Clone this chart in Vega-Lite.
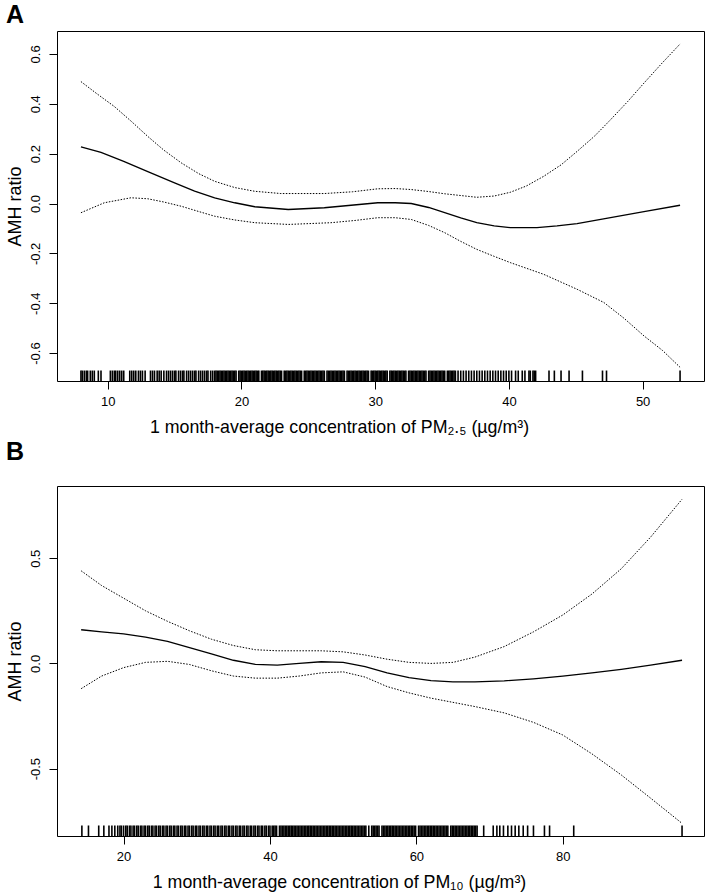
{
 "$schema": "https://vega.github.io/schema/vega-lite/v6.json",
 "background": "white",
 "padding": {"left": 5, "top": 2, "right": 3, "bottom": 0},
 "spacing": 2,
 "config": {
  "font": "Liberation Sans",
  "view": {"stroke": "black", "strokeWidth": 1},
  "axis": {"grid": false, "domain": false, "tickColor": "black", "tickSize": 8, "tickWidth": 1, "labelColor": "black", "titleColor": "black", "labelFont": "Liberation Sans", "titleFont": "Liberation Sans", "labelFontSize": 13, "titleFontSize": 18, "titleFontWeight": "normal"},
  "title": {"font": "Liberation Sans", "fontSize": 25, "fontWeight": "bold", "anchor": "start", "frame": "bounds", "baseline": "alphabetic", "color": "black"}
 },
 "datasets": {
  "curveA": [
   {"x":8.0,"y":0.227,"s":"fit"},{"x":9.5,"y":0.205,"s":"fit"},{"x":11.2,"y":0.169,"s":"fit"},{"x":13,"y":0.128,"s":"fit"},{"x":15,"y":0.083,"s":"fit"},{"x":16.5,"y":0.05,"s":"fit"},{"x":18,"y":0.023,"s":"fit"},{"x":19.5,"y":0.003,"s":"fit"},{"x":21,"y":-0.013,"s":"fit"},{"x":23.5,"y":-0.024,"s":"fit"},{"x":26.2,"y":-0.017,"s":"fit"},{"x":28,"y":-0.008,"s":"fit"},{"x":30.2,"y":0.003,"s":"fit"},{"x":31.5,"y":0.003,"s":"fit"},{"x":32.7,"y":0.0,"s":"fit"},{"x":34,"y":-0.016,"s":"fit"},{"x":35.2,"y":-0.037,"s":"fit"},{"x":36.4,"y":-0.058,"s":"fit"},{"x":37.6,"y":-0.077,"s":"fit"},{"x":38.9,"y":-0.09,"s":"fit"},{"x":40.1,"y":-0.097,"s":"fit"},{"x":42.1,"y":-0.097,"s":"fit"},{"x":43.6,"y":-0.09,"s":"fit"},{"x":45.1,"y":-0.081,"s":"fit"},{"x":47.6,"y":-0.057,"s":"fit"},{"x":50.1,"y":-0.033,"s":"fit"},{"x":52.8,"y":-0.007,"s":"fit"},
   {"x":8.0,"y":0.489,"s":"upper"},{"x":9.2,"y":0.44,"s":"upper"},{"x":10.5,"y":0.389,"s":"upper"},{"x":11.8,"y":0.328,"s":"upper"},{"x":13,"y":0.269,"s":"upper"},{"x":14.2,"y":0.214,"s":"upper"},{"x":15.5,"y":0.163,"s":"upper"},{"x":16.8,"y":0.12,"s":"upper"},{"x":18,"y":0.089,"s":"upper"},{"x":19.5,"y":0.064,"s":"upper"},{"x":21,"y":0.049,"s":"upper"},{"x":22.95,"y":0.04,"s":"upper"},{"x":26.2,"y":0.04,"s":"upper"},{"x":28.3,"y":0.047,"s":"upper"},{"x":30.2,"y":0.059,"s":"upper"},{"x":31.5,"y":0.06,"s":"upper"},{"x":32.7,"y":0.056,"s":"upper"},{"x":34,"y":0.048,"s":"upper"},{"x":35.2,"y":0.039,"s":"upper"},{"x":37.6,"y":0.025,"s":"upper"},{"x":38.9,"y":0.03,"s":"upper"},{"x":40.1,"y":0.045,"s":"upper"},{"x":41.3,"y":0.07,"s":"upper"},{"x":42.6,"y":0.109,"s":"upper"},{"x":43.9,"y":0.155,"s":"upper"},{"x":45.1,"y":0.209,"s":"upper"},{"x":46.4,"y":0.27,"s":"upper"},{"x":47.6,"y":0.336,"s":"upper"},{"x":48.9,"y":0.41,"s":"upper"},{"x":50.1,"y":0.483,"s":"upper"},{"x":51.4,"y":0.56,"s":"upper"},{"x":52.8,"y":0.64,"s":"upper"},
   {"x":8.0,"y":-0.037,"s":"lower"},{"x":9.75,"y":0.003,"s":"lower"},{"x":11.74,"y":0.023,"s":"lower"},{"x":13,"y":0.019,"s":"lower"},{"x":14.2,"y":0.006,"s":"lower"},{"x":15.5,"y":-0.011,"s":"lower"},{"x":16.8,"y":-0.032,"s":"lower"},{"x":18,"y":-0.051,"s":"lower"},{"x":19.5,"y":-0.066,"s":"lower"},{"x":21,"y":-0.077,"s":"lower"},{"x":23.5,"y":-0.084,"s":"lower"},{"x":26.7,"y":-0.077,"s":"lower"},{"x":28.5,"y":-0.068,"s":"lower"},{"x":30.2,"y":-0.057,"s":"lower"},{"x":31.5,"y":-0.057,"s":"lower"},{"x":32.7,"y":-0.064,"s":"lower"},{"x":34,"y":-0.088,"s":"lower"},{"x":35.2,"y":-0.117,"s":"lower"},{"x":36.4,"y":-0.152,"s":"lower"},{"x":37.6,"y":-0.184,"s":"lower"},{"x":38.9,"y":-0.212,"s":"lower"},{"x":40.1,"y":-0.237,"s":"lower"},{"x":42.6,"y":-0.284,"s":"lower"},{"x":45.1,"y":-0.344,"s":"lower"},{"x":47.1,"y":-0.397,"s":"lower"},{"x":48.6,"y":-0.46,"s":"lower"},{"x":50.1,"y":-0.531,"s":"lower"},{"x":51.5,"y":-0.59,"s":"lower"},{"x":52.8,"y":-0.657,"s":"lower"}
  ],
  "curveB": [
   {"x":14.2,"y":0.16,"s":"fit"},{"x":17,"y":0.15,"s":"fit"},{"x":20,"y":0.14,"s":"fit"},{"x":23,"y":0.125,"s":"fit"},{"x":26,"y":0.105,"s":"fit"},{"x":29,"y":0.075,"s":"fit"},{"x":32,"y":0.045,"s":"fit"},{"x":35,"y":0.015,"s":"fit"},{"x":38,"y":-0.005,"s":"fit"},{"x":41,"y":-0.008,"s":"fit"},{"x":44,"y":0.0,"s":"fit"},{"x":47,"y":0.008,"s":"fit"},{"x":50,"y":0.005,"s":"fit"},{"x":53,"y":-0.015,"s":"fit"},{"x":56,"y":-0.045,"s":"fit"},{"x":59,"y":-0.068,"s":"fit"},{"x":62,"y":-0.082,"s":"fit"},{"x":65,"y":-0.088,"s":"fit"},{"x":68,"y":-0.088,"s":"fit"},{"x":72,"y":-0.083,"s":"fit"},{"x":76,"y":-0.073,"s":"fit"},{"x":80,"y":-0.06,"s":"fit"},{"x":84,"y":-0.045,"s":"fit"},{"x":88,"y":-0.028,"s":"fit"},{"x":92,"y":-0.008,"s":"fit"},{"x":96.3,"y":0.015,"s":"fit"},
   {"x":14.2,"y":0.44,"s":"upper"},{"x":17,"y":0.37,"s":"upper"},{"x":20,"y":0.31,"s":"upper"},{"x":23,"y":0.25,"s":"upper"},{"x":26,"y":0.2,"s":"upper"},{"x":29,"y":0.155,"s":"upper"},{"x":32,"y":0.115,"s":"upper"},{"x":35,"y":0.085,"s":"upper"},{"x":38,"y":0.065,"s":"upper"},{"x":41,"y":0.06,"s":"upper"},{"x":44,"y":0.06,"s":"upper"},{"x":47,"y":0.06,"s":"upper"},{"x":50,"y":0.055,"s":"upper"},{"x":53,"y":0.04,"s":"upper"},{"x":56,"y":0.02,"s":"upper"},{"x":59,"y":0.005,"s":"upper"},{"x":62,"y":0.0,"s":"upper"},{"x":65,"y":0.005,"s":"upper"},{"x":68,"y":0.03,"s":"upper"},{"x":72,"y":0.08,"s":"upper"},{"x":76,"y":0.15,"s":"upper"},{"x":80,"y":0.23,"s":"upper"},{"x":84,"y":0.33,"s":"upper"},{"x":88,"y":0.45,"s":"upper"},{"x":92,"y":0.6,"s":"upper"},{"x":96.3,"y":0.78,"s":"upper"},
   {"x":14.2,"y":-0.12,"s":"lower"},{"x":17,"y":-0.06,"s":"lower"},{"x":20,"y":-0.02,"s":"lower"},{"x":23,"y":0.005,"s":"lower"},{"x":26,"y":0.01,"s":"lower"},{"x":29,"y":-0.005,"s":"lower"},{"x":32,"y":-0.035,"s":"lower"},{"x":35,"y":-0.06,"s":"lower"},{"x":38,"y":-0.07,"s":"lower"},{"x":41,"y":-0.07,"s":"lower"},{"x":44,"y":-0.06,"s":"lower"},{"x":47,"y":-0.045,"s":"lower"},{"x":50,"y":-0.04,"s":"lower"},{"x":53,"y":-0.065,"s":"lower"},{"x":56,"y":-0.11,"s":"lower"},{"x":59,"y":-0.14,"s":"lower"},{"x":62,"y":-0.165,"s":"lower"},{"x":65,"y":-0.185,"s":"lower"},{"x":68,"y":-0.205,"s":"lower"},{"x":72,"y":-0.235,"s":"lower"},{"x":76,"y":-0.28,"s":"lower"},{"x":80,"y":-0.34,"s":"lower"},{"x":84,"y":-0.43,"s":"lower"},{"x":88,"y":-0.53,"s":"lower"},{"x":92,"y":-0.64,"s":"lower"},{"x":96.3,"y":-0.76,"s":"lower"}
  ],
  "rugA": [
   {"x":8.0},{"x":8.1},{"x":8.25},{"x":8.4},{"x":8.5},{"x":8.7},{"x":8.85},{"x":9.0},{"x":9.3},{"x":9.5},{"x":10.2},{"x":10.35},{"x":10.5},{"x":10.6},{"x":10.75},{"x":10.9},{"x":11.05},{"x":11.2},{"x":11.65},{"x":11.8},{"x":11.95},{"x":12.1},{"x":12.3},{"x":12.45},{"x":12.6},{"x":12.8},{"x":13.2},{"x":13.35},{"x":13.5},{"x":13.7},{"x":13.85},{"x":14.0},{"x":14.2},{"x":14.4},{"x":14.55},{"x":14.7},{"x":14.85},{"x":15.0},{"x":15.1},{"x":15.3},{"x":15.45},{"x":15.6},{"x":15.7},{"x":15.9},{"x":16.05},{"x":16.2},{"x":16.35},{"x":16.5},{"x":16.6},{"x":16.8},{"x":16.95},{"x":17.1},{"x":17.25},{"x":17.4},{"x":17.5},{"x":17.7},{"x":17.85},
   {"x":18.0},{"x":18.1},{"x":18.2},{"x":18.3},{"x":18.4},{"x":18.5},{"x":18.6},{"x":18.7},{"x":18.8},{"x":18.9},
   {"x":19.0},{"x":19.1},{"x":19.2},{"x":19.3},{"x":19.4},{"x":19.5},{"x":19.6},{"x":19.8},{"x":19.9},
   {"x":20.0},{"x":20.1},{"x":20.2},{"x":20.3},{"x":20.4},{"x":20.5},{"x":20.6},{"x":20.7},{"x":20.8},{"x":20.9},
   {"x":21.0},{"x":21.1},{"x":21.2},{"x":21.3},{"x":21.5},{"x":21.6},{"x":21.7},{"x":21.8},{"x":21.9},
   {"x":22.0},{"x":22.1},{"x":22.2},{"x":22.3},{"x":22.4},{"x":22.5},{"x":22.6},{"x":22.7},{"x":22.8},{"x":22.9},
   {"x":23.0},{"x":23.2},{"x":23.3},{"x":23.4},{"x":23.5},{"x":23.6},{"x":23.7},{"x":23.8},{"x":23.9},
   {"x":24.0},{"x":24.1},{"x":24.2},{"x":24.3},{"x":24.4},{"x":24.5},{"x":24.7},{"x":24.8},{"x":24.9},
   {"x":25.0},{"x":25.1},{"x":25.2},{"x":25.3},{"x":25.4},{"x":25.5},{"x":25.6},{"x":25.7},{"x":25.8},{"x":25.9},
   {"x":26.0},{"x":26.1},{"x":26.2},{"x":26.4},{"x":26.5},{"x":26.6},{"x":26.7},{"x":26.8},{"x":26.9},
   {"x":27.0},{"x":27.1},{"x":27.2},{"x":27.3},{"x":27.4},{"x":27.5},{"x":27.6},{"x":27.7},{"x":27.9},
   {"x":28.0},{"x":28.1},{"x":28.2},{"x":28.3},{"x":28.4},{"x":28.5},{"x":28.6},{"x":28.7},{"x":28.8},{"x":28.9},
   {"x":29.0},{"x":29.1},{"x":29.2},{"x":29.3},{"x":29.4},{"x":29.5},{"x":29.7},{"x":29.8},{"x":29.9},
   {"x":30.0},{"x":30.1},{"x":30.2},{"x":30.3},{"x":30.4},{"x":30.5},{"x":30.6},{"x":30.7},{"x":30.8},{"x":30.9},
   {"x":31.1},{"x":31.2},{"x":31.3},{"x":31.4},{"x":31.5},{"x":31.6},{"x":31.7},{"x":31.8},{"x":31.9},
   {"x":32.0},{"x":32.1},{"x":32.2},{"x":32.3},{"x":32.5},{"x":32.6},{"x":32.7},{"x":32.8},{"x":32.9},
   {"x":33.0},{"x":33.1},{"x":33.2},{"x":33.3},{"x":33.4},{"x":33.5},{"x":33.6},{"x":33.7},{"x":33.8},
   {"x":34.0},{"x":34.1},{"x":34.2},{"x":34.3},{"x":34.4},{"x":34.5},{"x":34.6},{"x":34.7},{"x":34.8},{"x":34.9},
   {"x":35.0},{"x":35.1},{"x":35.2},{"x":35.4},{"x":35.5},{"x":35.6},{"x":35.7},{"x":35.8},{"x":35.9},
   {"x":36.0},{"x":36.2},{"x":36.4},{"x":36.6},{"x":36.8},{"x":37.0},{"x":37.2},{"x":37.4},{"x":37.6},{"x":37.8},{"x":38.0},{"x":38.2},{"x":38.4},{"x":38.6},{"x":38.8},{"x":39.0},{"x":39.2},{"x":39.4},{"x":39.6},{"x":39.8},{"x":40.0},
   {"x":40.2},{"x":40.5},{"x":40.7},{"x":41.0},{"x":41.2},{"x":41.5},{"x":41.6},{"x":41.8},{"x":41.9},{"x":42.0},{"x":43.0},{"x":43.4},{"x":43.9},{"x":44.5},{"x":45.5},{"x":47.0},{"x":47.3},{"x":52.8}
  ],
  "rugB": [
   {"x":14.3},{"x":15.2},{"x":16.6},{"x":17.3},{"x":18.0},{"x":18.4},{"x":18.8},
   {"x":19.2},{"x":19.5},{"x":19.7},{"x":20.0},{"x":20.3},{"x":20.5},{"x":20.8},{"x":21.0},{"x":21.3},{"x":21.5},{"x":21.8},{"x":22.0},{"x":22.3},{"x":22.5},{"x":22.8},{"x":23.0},{"x":23.3},{"x":23.5},{"x":23.8},{"x":24.0},{"x":24.3},{"x":24.5},{"x":24.8},{"x":25.0},{"x":25.3},{"x":25.5},{"x":25.8},{"x":26.0},{"x":26.3},{"x":26.5},{"x":26.8},{"x":27.0},{"x":27.3},{"x":27.5},{"x":27.8},{"x":28.0},{"x":28.3},{"x":28.5},{"x":28.8},{"x":29.0},{"x":29.3},{"x":29.5},{"x":29.8},{"x":30.0},{"x":30.3},{"x":30.5},{"x":30.8},{"x":31.0},{"x":31.3},{"x":31.5},{"x":31.8},{"x":32.0},{"x":32.3},{"x":32.5},{"x":32.8},{"x":33.0},{"x":33.3},{"x":33.5},{"x":33.8},{"x":34.0},{"x":34.3},{"x":34.5},{"x":34.8},{"x":35.0},{"x":35.3},{"x":35.5},{"x":35.8},{"x":36.0},{"x":36.3},{"x":36.5},{"x":36.8},{"x":37.0},{"x":37.3},{"x":37.5},{"x":37.8},{"x":38.0},{"x":38.3},{"x":38.5},{"x":38.8},{"x":39.0},{"x":39.3},{"x":39.5},{"x":39.8},{"x":40.0},{"x":40.3},{"x":40.5},
   {"x":40.7},{"x":40.9},{"x":41.3},{"x":41.5},{"x":41.7},{"x":41.9},{"x":42.1},{"x":42.3},{"x":42.5},{"x":42.7},{"x":42.9},{"x":43.1},{"x":43.3},{"x":43.5},{"x":43.7},{"x":43.9},{"x":44.1},{"x":44.3},{"x":44.5},{"x":44.7},{"x":44.9},{"x":45.1},{"x":45.3},{"x":45.5},{"x":45.7},{"x":45.9},{"x":46.1},{"x":46.3},{"x":46.5},{"x":46.7},{"x":46.9},{"x":47.1},{"x":47.3},{"x":47.5},{"x":47.7},{"x":47.9},{"x":48.1},{"x":48.3},{"x":48.5},{"x":48.7},{"x":48.9},{"x":49.1},{"x":49.3},{"x":49.5},{"x":49.7},{"x":49.9},{"x":50.1},{"x":50.3},{"x":50.5},{"x":50.7},{"x":50.9},{"x":51.1},{"x":51.3},{"x":51.5},{"x":51.7},{"x":51.9},{"x":52.1},{"x":52.3},{"x":52.5},{"x":52.7},{"x":52.9},{"x":53.1},{"x":53.5},{"x":53.9},{"x":54.1},{"x":54.3},{"x":54.5},{"x":54.7},{"x":54.9},{"x":55.3},{"x":55.5},{"x":55.7},{"x":55.9},{"x":56.1},{"x":56.3},{"x":56.5},{"x":56.7},{"x":56.9},{"x":57.1},{"x":57.3},{"x":57.5},{"x":57.7},{"x":57.9},{"x":58.1},{"x":58.3},{"x":58.5},{"x":58.7},{"x":58.9},{"x":59.1},{"x":59.3},{"x":59.5},{"x":59.7},{"x":59.9},{"x":60.3},{"x":60.5},{"x":60.7},{"x":60.9},{"x":61.1},{"x":61.3},{"x":61.5},{"x":61.7},{"x":61.9},{"x":62.1},{"x":62.3},{"x":62.5},{"x":62.7},{"x":62.9},{"x":63.1},{"x":63.3},{"x":63.5},{"x":63.7},{"x":63.9},{"x":64.1},{"x":64.3},{"x":64.7},{"x":64.9},{"x":65.1},{"x":65.3},{"x":65.5},{"x":65.7},{"x":65.9},{"x":66.1},{"x":66.3},{"x":66.5},{"x":66.7},{"x":66.9},{"x":67.1},{"x":67.3},{"x":67.5},{"x":67.7},{"x":67.9},{"x":68.1},{"x":68.3},
   {"x":69.2},{"x":70.5},{"x":71.0},{"x":71.4},{"x":71.9},{"x":72.5},{"x":73.0},{"x":73.5},{"x":74.0},{"x":74.6},{"x":75.2},{"x":76.0},{"x":77.5},{"x":78.2},{"x":81.5},{"x":96.3}
  ]
 },
 "vconcat": [
  {
   "title": {"text": "A", "offset": 3},
   "width": 647,
   "height": 350,
   "layer": [
    {
     "data": {"name": "curveA"},
     "transform": [{"filter": "datum.s !== 'fit'"}],
     "mark": {"type": "line", "color": "black", "strokeWidth": 1, "strokeDash": [1.5, 1.5]},
     "encoding": {
      "x": {"field": "x", "type": "quantitative", "scale": {"domain": [6.21, 54.59], "nice": false, "zero": false},
            "axis": {"values": [10, 20, 30, 40, 50], "title": "1 month-average concentration of PM₂.₅ (µg/m³)", "titleFontSize": 17.8, "titleX": 282, "labelPadding": 6, "titlePadding": 10}},
      "y": {"field": "y", "type": "quantitative", "scale": {"domain": [-0.712, 0.692], "nice": false, "zero": false},
            "axis": {"values": [-0.6, -0.4, -0.2, 0, 0.2, 0.4, 0.6], "labelExpr": "replace(format(datum.value, '.1f'), '\u2212', '-')", "labelAngle": 270, "labelAlign": "center", "labelBaseline": "bottom", "labelPadding": 7, "title": "AMH ratio", "titlePadding": 5}},
      "detail": {"field": "s"}
     }
    },
    {
     "data": {"name": "curveA"},
     "transform": [{"filter": "datum.s === 'fit'"}],
     "mark": {"type": "line", "color": "black", "strokeWidth": 1.3},
     "encoding": {
      "x": {"field": "x", "type": "quantitative"},
      "y": {"field": "y", "type": "quantitative"}
     }
    },
    {
     "data": {"name": "rugA"},
     "mark": {"type": "rule", "color": "black", "strokeWidth": 1.6},
     "encoding": {
      "x": {"field": "x", "type": "quantitative"},
      "y": {"datum": -0.712},
      "y2": {"datum": -0.67}
     }
    }
   ]
  },
  {
   "title": {"text": "B", "offset": 21},
   "width": 647,
   "height": 350,
   "layer": [
    {
     "data": {"name": "curveB"},
     "transform": [{"filter": "datum.s !== 'fit'"}],
     "mark": {"type": "line", "color": "black", "strokeWidth": 1, "strokeDash": [1.5, 1.5]},
     "encoding": {
      "x": {"field": "x", "type": "quantitative", "scale": {"domain": [10.9, 99.3], "nice": false, "zero": false},
            "axis": {"values": [20, 40, 60, 80], "title": "1 month-average concentration of PM₁₀ (µg/m³)", "titleFontSize": 17.8, "titleX": 282, "labelPadding": 6, "titlePadding": 10}},
      "y": {"field": "y", "type": "quantitative", "scale": {"domain": [-0.82, 0.843], "nice": false, "zero": false},
            "axis": {"values": [-0.5, 0, 0.5], "labelExpr": "replace(format(datum.value, '.1f'), '\u2212', '-')", "labelAngle": 270, "labelAlign": "center", "labelBaseline": "bottom", "labelPadding": 7, "title": "AMH ratio", "titlePadding": 5}},
      "detail": {"field": "s"}
     }
    },
    {
     "data": {"name": "curveB"},
     "transform": [{"filter": "datum.s === 'fit'"}],
     "mark": {"type": "line", "color": "black", "strokeWidth": 1.3},
     "encoding": {
      "x": {"field": "x", "type": "quantitative"},
      "y": {"field": "y", "type": "quantitative"}
     }
    },
    {
     "data": {"name": "rugB"},
     "mark": {"type": "rule", "color": "black", "strokeWidth": 1.6},
     "encoding": {
      "x": {"field": "x", "type": "quantitative"},
      "y": {"datum": -0.82},
      "y2": {"datum": -0.77}
     }
    }
   ]
  }
 ]
}
